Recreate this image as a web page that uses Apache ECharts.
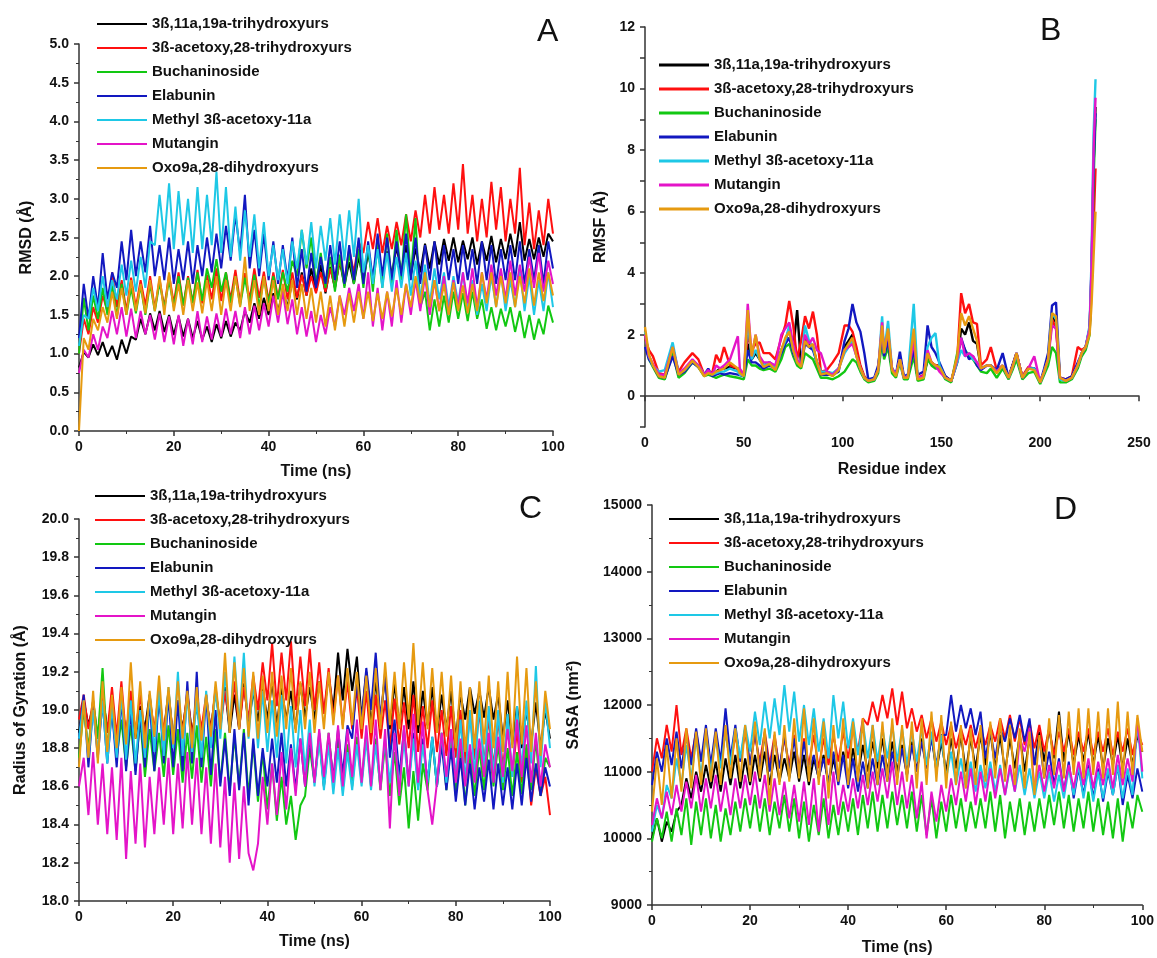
<!DOCTYPE html>
<html>
<head>
<meta charset="utf-8">
<script src="https://cdn.jsdelivr.net/npm/echarts@6/dist/echarts.min.js"></script>
<style>
  html, body { margin: 0; padding: 0; background: #fff; }
  #main { width: 1157px; height: 958px; }
</style>
</head>
<body>
<div id="main"></div>
<script>
// names + colours shared by all four panels
const NAMES = ['3ß,11a,19a-trihydroxyurs', '3ß-acetoxy,28-trihydroxyurs', 'Buchaninoside', 'Elabunin',
  'Methyl 3ß-acetoxy-11a', 'Mutangin', 'Oxo9a,28-dihydroxyurs'];
const COLORS = ['#000000', '#ff1010', '#12c812', '#1218c0', '#1ec8e6', '#e414c8', '#e69a10'];

const TIME_STEP = 1; // ns between samples in A, C, D

// ---- A: RMSD (Å), one value per ns, 0..100
const rmsdBlack = [0.82,1.02,0.95,1.12,0.98,1.15,0.96,1.10,0.92,1.18, 1.00,1.22,1.18,1.45,1.25,1.52,1.30,1.55,1.28,1.50,
  1.24,1.48,1.22,1.45,1.20,1.42,1.18,1.35,1.15,1.38, 1.20,1.42,1.22,1.40,1.30,1.55,1.40,1.65,1.45,1.72,
  1.50,1.78,1.55,1.80,1.60,1.95,1.70,2.05,1.75,2.10, 1.80,2.15,1.78,2.12,1.85,2.20,1.88,2.18,1.90,2.25,
  1.95,2.30,1.98,2.35,2.00,2.32,2.02,2.38,2.05,2.40, 2.00,2.36,2.05,2.42,2.10,2.45,2.15,2.48,2.20,2.50,
  2.18,2.46,2.22,2.50,2.15,2.45,2.20,2.52,2.18,2.48, 2.22,2.55,2.25,2.70,2.20,2.48,2.22,2.50,2.25,2.55, 2.45];
const rmsdRed = [1.00,1.45,1.25,1.60,1.40,1.75,1.55,2.05,1.60,1.95, 1.55,1.98,1.60,1.95,1.62,2.00,1.58,1.96,1.60,2.02,
  1.65,2.05,1.62,2.00,1.66,2.08,1.65,2.02,1.70,2.10, 1.68,2.05,1.70,2.08,1.66,2.04,1.70,2.10,1.72,2.06,
  1.68,2.05,1.72,2.08,1.70,2.05,1.72,2.02,1.75,2.00, 1.78,2.05,1.80,2.10,1.85,2.20,1.95,2.35,2.05,2.45,
  2.30,2.70,2.35,2.75,2.30,2.65,2.35,2.70,2.40,2.80, 2.45,2.85,2.50,3.05,2.55,3.15,2.60,3.05,2.55,3.20,
  2.60,3.45,2.55,3.05,2.45,3.00,2.50,3.22,2.60,3.15, 2.45,3.00,2.55,3.40,2.40,2.95,2.35,2.85,2.40,3.00, 2.55];
const rmsdGreen = [1.00,1.72,1.30,1.75,1.45,1.85,1.50,1.88,1.48,1.90, 1.50,1.85,1.52,1.88,1.50,1.90,1.55,1.92,1.58,1.95,
  1.60,2.00,1.62,1.98,1.65,2.05,1.68,2.10,1.85,2.22, 1.80,2.05,1.65,2.00,1.62,1.98,1.65,2.02,1.60,1.98,
  1.65,2.00,1.70,2.05,1.80,2.20,2.00,2.60,2.10,2.50, 1.90,2.30,1.85,2.25,1.80,2.28,1.85,2.30,1.90,2.35,
  1.85,2.40,1.80,2.45,1.85,2.55,1.90,2.60,1.95,2.80, 2.00,2.75,1.60,1.80,1.30,1.70,1.35,1.75,1.40,1.80,
  1.45,1.78,1.42,1.80,1.45,1.70,1.32,1.60,1.30,1.58, 1.35,1.60,1.28,1.55,1.20,1.50,1.18,1.45,1.25,1.62, 1.40];
const rmsdBlue = [1.20,1.90,1.45,2.00,1.60,2.30,1.70,2.05,1.85,2.45, 1.95,2.60,2.00,2.45,2.05,2.65,2.00,2.40,1.95,2.50,
  1.90,2.35,1.95,2.45,1.90,2.40,2.00,2.50,2.05,2.55, 2.10,2.65,2.20,2.80,2.30,3.05,2.10,2.60,2.00,2.55,
  1.95,2.45,1.90,2.40,1.95,2.50,1.85,2.35,1.80,2.30, 1.85,2.25,1.90,2.40,1.95,2.45,1.90,2.40,1.95,2.50,
  1.90,2.45,1.95,2.55,2.00,2.50,1.95,2.45,2.00,2.55, 1.95,2.50,1.90,2.40,1.95,2.45,1.90,2.40,1.95,2.35,
  1.90,2.40,1.95,2.35,1.90,2.45,1.95,2.40,1.90,2.35, 1.95,2.40,1.95,2.45,1.90,2.35,1.95,2.40,1.90,2.45, 2.10];
const rmsdCyan = [1.10,1.50,1.45,1.85,1.55,2.00,1.60,1.95,1.70,2.15, 1.75,2.20,1.80,2.25,1.85,2.45,2.40,3.05,2.45,3.20,
  2.35,3.10,2.40,3.00,2.30,3.15,2.35,3.05,2.40,3.35, 2.30,3.15,2.25,2.90,2.20,2.85,2.25,2.80,2.10,2.70,
  2.00,2.40,1.95,2.35,1.90,2.45,2.10,2.60,2.15,2.70, 2.10,2.65,2.20,2.75,2.15,2.80,2.20,2.85,2.25,3.00,
  2.05,2.40,1.90,2.35,1.85,2.30,1.80,2.25,1.85,2.30, 1.75,2.20,1.70,2.15,1.65,2.10,1.70,2.05,1.60,2.00,
  1.65,2.05,1.55,1.95,1.50,1.90,1.55,2.00,1.60,2.05, 1.55,1.95,1.60,2.10,1.55,2.00,1.50,1.95,1.55,2.05, 1.60];
const rmsdMagenta = [0.75,1.05,0.95,1.25,1.05,1.35,1.20,1.55,1.25,1.60, 1.22,1.58,1.20,1.55,1.25,1.50,1.18,1.52,1.15,1.48,
  1.12,1.50,1.10,1.45,1.12,1.55,1.15,1.48,1.18,1.52, 1.22,1.58,1.25,1.55,1.20,1.60,1.25,1.62,1.30,1.65,
  1.35,1.75,1.40,1.80,1.38,1.70,1.25,1.60,1.22,1.55, 1.15,1.50,1.25,1.60,1.35,1.75,1.50,1.85,1.55,1.90,
  1.45,2.05,1.35,1.85,1.30,1.80,1.35,1.95,1.40,1.90, 1.50,1.95,1.55,2.00,1.50,1.95,1.55,2.00,1.50,1.95,
  1.60,2.05,1.65,2.10,1.60,2.05,1.70,2.15,1.75,2.10, 1.70,2.20,1.75,2.15,1.80,2.25,1.85,2.30,1.80,2.20, 1.90];
const rmsdOrange = [0.00,1.20,1.05,1.45,1.30,1.60,1.40,1.80,1.45,1.85, 1.50,1.95,1.55,1.90,1.52,1.95,1.55,2.00,1.50,2.05,
  1.55,1.90,1.50,1.95,1.55,1.92,1.52,1.95,1.55,2.00, 1.50,1.95,1.55,2.00,1.60,2.25,1.55,1.95,1.50,2.00,
  1.55,1.95,1.50,1.90,1.55,1.95,1.50,1.90,1.45,1.85, 1.40,1.80,1.35,1.75,1.30,1.75,1.35,1.78,1.40,1.80,
  1.45,1.80,1.42,1.78,1.45,1.80,1.48,1.85,1.50,1.90, 1.60,2.00,1.65,2.05,1.60,1.95,1.55,1.90,1.50,1.92,
  1.55,1.88,1.52,1.90,1.55,2.05,1.65,2.05,1.60,2.00, 1.65,2.05,1.60,2.00,1.65,2.10,1.62,2.05,1.68,2.05, 1.75];

// ---- B: RMSF (Å) per residue
const RESIDUES = [0,2,4,7,10, 14,17,20,24,27, 30,32,34,36,38, 40,43,47,48,50, 52,54,56,58,60, 63,66,69,71,73,
  75,77,79,81,83, 85,87,89,92,95, 98,101,103,105,107, 109,111,113,116,118, 120,121,123,125,127, 129,131,133,136,138,
  141,143,145,147,149, 152,155,158,160,162, 164,166,168,170,173, 175,178,181,184,186, 188,191,194,197,200,
  202,204,206,208,210, 213,216,219,221,223, 225,226,227,228];
const rmsfBlack = [2.0,1.3,1.0,0.65,0.65, 1.55,0.75,0.85,1.15,1.0, 0.7,0.8,0.7,0.8,0.9, 0.9,0.95,0.9,0.8,0.7,
  1.7,1.2,1.4,1.2,1.0, 1.1,0.95,1.5,1.8,2.2, 1.5,2.8,1.0,1.9,1.7, 1.6,1.1,0.75,0.8,0.7, 0.9,1.6,1.8,2.0,1.4,
  0.95,0.6,0.5,0.55,0.9, 2.0,1.3,1.8,0.9,0.7, 1.25,0.6,0.65,1.5,0.6, 0.65,1.2,1.1,1.0,1.0, 0.6,0.5,1.1,2.2,2.0,
  2.4,1.8,1.7,0.9,1.0, 1.0,0.8,1.0,0.6,1.0, 1.4,0.6,0.9,0.9,0.45, 0.8,1.2,2.6,2.4,0.6, 0.5,0.6,1.0,1.4,1.6,
  2.2,4.0,7.5,9.4];
const rmsfRed = [1.9,1.5,1.3,0.75,0.7, 1.6,0.8,1.1,1.4,1.2, 0.7,0.8,0.75,1.35,1.1, 1.6,1.0,0.9,0.8,0.7,
  2.0,1.5,1.7,1.75,1.4, 1.4,1.2,1.9,2.3,3.1, 2.3,1.2,1.8,2.6,2.2, 2.75,2.0,0.8,0.85,1.1, 1.4,2.3,2.3,2.1,1.6,
  1.0,0.65,0.5,0.55,0.9, 2.2,1.4,1.8,0.9,0.7, 1.2,0.6,0.65,1.5,0.6, 0.7,1.2,1.1,1.0,1.0, 0.65,0.5,1.2,3.35,2.7,
  3.0,2.4,2.35,1.0,1.2, 1.6,0.85,1.0,0.65,1.0, 1.35,0.65,0.95,0.9,0.5, 0.8,1.2,2.5,2.2,0.6, 0.55,0.65,1.6,1.5,1.6,
  2.1,3.5,5.5,7.4];
const rmsfGreen = [2.0,1.2,0.95,0.6,0.55, 1.4,0.6,0.75,1.1,0.95, 0.65,0.7,0.65,0.6,0.65, 0.7,0.65,0.6,0.6,0.55,
  1.2,1.0,1.0,0.9,0.85, 0.9,0.8,1.2,1.6,1.7, 1.3,1.0,0.9,1.4,1.3, 1.2,0.9,0.6,0.6,0.55, 0.65,0.8,1.0,1.2,1.1,
  0.8,0.55,0.45,0.5,0.75, 1.8,1.2,1.6,0.75,0.6, 1.1,0.55,0.55,1.3,0.5, 0.55,1.2,1.0,0.9,0.9, 0.55,0.45,1.4,1.8,1.5,
  1.3,1.2,1.0,0.8,0.75, 0.9,0.6,0.9,0.55,0.85, 1.2,0.55,0.75,0.8,0.4, 0.7,1.0,1.6,1.4,0.45, 0.45,0.55,0.9,1.3,1.5,
  2.0,3.8,7.0,9.0];
const rmsfBlue = [1.6,1.2,1.0,0.65,0.6, 1.3,0.7,0.8,1.1,0.95, 0.7,0.9,0.65,0.7,0.75, 0.7,0.75,0.7,0.75,0.65,
  1.5,1.1,1.1,1.0,0.9, 1.0,0.9,1.4,1.7,1.9, 1.4,1.1,1.0,1.7,1.6, 1.5,1.1,0.7,0.7,0.7, 0.8,1.8,2.2,3.0,2.4,
  2.1,1.4,0.55,0.6,1.0, 2.0,1.3,1.8,0.9,0.7, 1.45,0.65,0.7,1.5,0.7, 0.8,2.3,1.6,1.4,1.1, 0.65,0.5,1.2,1.9,1.5,
  1.2,1.3,1.0,0.85,1.0, 1.0,0.85,1.4,0.6,1.0, 1.4,0.6,0.9,0.9,0.45, 0.9,1.4,2.95,3.05,0.6, 0.55,0.65,1.1,1.4,1.6,
  2.2,4.2,7.5,9.2];
const rmsfCyan = [2.1,1.3,1.0,0.8,0.85, 1.75,0.75,0.85,1.15,1.0, 0.7,0.8,0.7,0.75,0.8, 0.8,0.9,0.8,0.7,0.65,
  2.5,1.2,1.5,1.2,1.0, 1.1,0.9,1.5,1.8,2.3, 1.5,1.1,1.0,2.3,1.8, 1.6,1.1,0.8,0.8,0.75, 0.9,1.4,1.6,1.8,1.3,
  0.9,0.6,0.5,0.55,0.85, 2.6,1.4,2.45,0.9,0.7, 1.2,0.6,0.65,3.0,0.6, 0.6,1.6,1.9,2.05,1.0, 0.6,0.5,1.1,1.5,1.3,
  1.4,1.2,1.1,0.9,1.0, 1.0,0.8,1.0,0.6,0.95, 1.35,0.6,0.9,0.9,0.45, 0.8,1.2,2.7,2.5,0.55, 0.5,0.6,1.0,1.4,1.6,
  2.3,4.5,8.5,10.3];
const rmsfMagenta = [2.0,1.3,1.05,0.7,0.7, 1.6,0.75,0.9,1.2,1.0, 0.7,0.85,0.7,1.0,0.9, 1.0,1.2,1.95,0.9,0.7,
  3.0,1.3,2.0,1.3,1.1, 1.1,1.0,2.0,2.2,2.4, 1.7,1.2,1.0,2.0,1.7, 1.9,1.5,1.4,0.8,0.7, 0.9,1.5,1.6,1.7,1.3,
  0.9,0.6,0.5,0.55,0.85, 2.4,1.4,2.1,0.9,0.7, 1.2,0.6,0.65,1.8,0.6, 0.65,1.5,1.1,1.0,0.8, 0.6,0.5,1.2,1.9,1.3,
  1.4,1.3,1.1,0.9,1.0, 1.0,0.8,1.0,0.6,0.95, 1.4,0.6,0.9,1.3,0.45, 0.8,1.2,2.3,2.2,0.6, 0.5,0.6,1.0,1.4,1.6,
  2.2,4.3,8.0,9.7];
const rmsfOrange = [2.25,1.35,1.0,0.65,0.6, 1.6,0.7,0.85,1.15,0.95, 0.65,0.75,0.7,0.8,0.85, 0.9,1.1,0.9,0.75,0.65,
  2.8,1.3,2.0,1.2,0.95, 1.05,0.85,1.5,1.9,2.1, 1.5,1.1,0.95,1.8,1.6, 1.7,1.1,0.7,0.75,0.65, 0.85,1.5,1.7,1.9,1.3,
  0.9,0.6,0.5,0.55,0.85, 2.3,1.4,2.2,0.85,0.65, 1.2,0.6,0.6,2.2,0.55, 0.6,1.4,1.1,1.0,0.95, 0.6,0.5,1.3,2.7,2.3,
  2.6,2.2,1.8,0.9,1.0, 1.0,0.75,1.0,0.6,0.95, 1.4,0.6,0.9,0.85,0.45, 0.8,1.2,2.7,2.6,0.6, 0.5,0.6,1.0,1.4,1.6,
  2.0,3.0,4.5,6.0];

// ---- C: radius of gyration (Å), one value per ns
const rgBlack = [18.88,19.05,18.92,19.02,18.85,19.08,18.90,19.00,18.86,19.04, 18.88,19.06,18.85,19.02,18.90,19.08,18.86,19.04,18.88,19.10,
  18.85,19.05,18.90,19.08,18.88,19.02,18.86,19.06,18.90,19.10, 18.92,19.12,18.88,19.08,18.90,19.14,18.92,19.10,18.94,19.12,
  18.95,19.15,18.92,19.12,18.95,19.10,18.90,19.14,18.96,19.12, 18.95,19.15,18.98,19.18,19.00,19.30,19.05,19.32,19.10,19.28,
  18.95,19.20,18.92,19.15,18.95,19.18,18.90,19.14,18.92,19.12, 18.90,19.15,18.88,19.10,18.92,19.12,18.88,19.08,18.90,19.10,
  18.85,19.08,18.95,19.12,18.98,19.10,18.96,19.12,18.95,19.08, 18.85,19.05,18.82,19.02,18.80,19.00,18.82,19.04,18.80,19.00, 18.85];
const rgRed = [18.95,19.08,18.90,19.05,18.85,19.10,18.88,19.12,18.86,19.15, 18.85,19.10,18.88,19.08,18.86,19.05,18.90,19.10,18.88,19.08,
  18.86,19.05,18.88,19.10,18.85,19.06,18.90,19.08,18.88,19.12, 18.90,19.10,18.92,19.15,18.90,19.12,18.95,19.18,19.00,19.25,
  19.05,19.35,19.02,19.30,19.05,19.36,19.00,19.28,19.02,19.32, 19.00,19.25,18.98,19.22,18.95,19.18,18.92,19.15,18.90,19.12,
  18.85,19.10,18.82,19.08,18.85,19.05,18.80,19.06,18.82,19.04, 18.80,19.08,18.78,19.02,18.80,19.05,18.78,19.00,18.76,19.02,
  18.75,19.00,18.72,18.98,18.74,19.00,18.72,18.96,18.70,18.95, 18.70,18.92,18.65,18.90,18.62,18.80,18.50,18.70,18.55,18.65, 18.45];
const rgGreen = [18.75,19.00,18.80,19.05,18.85,19.22,18.80,19.00,18.75,18.95, 18.70,18.92,18.68,18.95,18.65,18.90,18.68,18.88,18.65,18.92,
  18.66,18.90,18.62,18.88,18.64,18.92,18.62,18.86,18.60,18.90, 18.62,18.88,18.58,18.86,18.60,18.90,18.55,18.82,18.52,18.78,
  18.48,18.72,18.42,18.65,18.40,18.55,18.32,18.50,18.55,18.80, 18.62,18.85,18.60,18.88,18.62,18.85,18.58,18.82,18.60,18.86,
  18.62,18.88,18.60,18.85,18.58,18.82,18.55,18.78,18.50,18.70, 18.38,18.68,18.42,18.72,18.58,18.85,18.60,18.88,18.58,18.86,
  18.55,18.82,18.50,18.78,18.55,18.80,18.58,18.84,18.60,18.82, 18.58,18.80,18.55,18.78,18.56,18.82,18.58,18.85,18.55,18.75, 18.70];
const rgBlue = [18.85,19.08,18.70,19.02,18.75,19.05,18.72,19.00,18.70,19.06, 18.68,19.00,18.66,18.98,18.70,19.05,18.68,19.10,18.72,19.08,
  18.70,19.05,18.68,19.15,18.72,19.20,18.70,19.08,18.66,19.00, 18.60,18.85,18.55,18.90,18.58,18.88,18.50,18.85,18.55,18.80,
  18.60,18.85,18.62,18.88,18.60,18.82,18.58,18.85,18.60,18.86, 18.62,18.88,18.60,18.85,18.64,18.90,18.66,18.92,18.85,19.15,
  18.95,19.22,19.00,19.30,18.95,19.20,18.75,18.95,18.65,18.90, 18.62,18.88,18.60,18.85,18.62,18.86,18.60,18.82,18.58,18.80,
  18.52,18.75,18.50,18.72,18.48,18.70,18.52,18.74,18.48,18.72, 18.50,18.70,18.48,18.72,18.50,18.75,18.52,18.72,18.55,18.70, 18.60];
const rgCyan = [18.85,19.05,18.75,19.00,18.78,19.05,18.72,19.02,18.75,19.08, 18.74,19.05,18.72,19.00,18.75,19.08,18.78,19.10,18.76,19.12,
  18.80,19.20,18.76,19.08,18.78,19.05,18.75,19.10,18.80,19.12, 18.85,19.20,18.90,19.28,18.92,19.30,18.85,19.15,18.80,19.10,
  18.78,19.05,18.75,19.08,18.72,19.02,18.70,19.00,18.68,18.95, 18.60,18.85,18.58,18.82,18.56,18.80,18.55,18.78,18.58,18.82,
  18.60,18.85,18.58,18.82,18.60,18.85,18.62,18.86,18.60,18.84, 18.60,18.85,18.58,18.82,18.62,18.86,18.60,18.88,18.62,18.90,
  18.65,18.95,18.62,19.00,18.65,19.05,18.68,19.02,18.65,19.00, 18.62,18.98,18.65,19.02,18.68,19.05,18.72,19.23,18.70,19.05, 18.80];
const rgMagenta = [18.60,18.75,18.45,18.78,18.40,18.72,18.35,18.70,18.32,18.75, 18.22,18.68,18.30,18.72,18.28,18.65,18.35,18.70,18.40,18.75,
  18.35,18.72,18.38,18.78,18.40,18.75,18.35,18.70,18.30,18.72, 18.28,18.65,18.20,18.62,18.22,18.60,18.25,18.16,18.30,18.65,
  18.40,18.72,18.45,18.78,18.48,18.80,18.55,18.85,18.60,18.88, 18.62,18.90,18.65,18.88,18.62,18.92,18.60,18.90,18.65,18.95,
  18.62,18.92,18.60,18.95,18.58,18.90,18.38,18.88,18.55,18.92, 18.60,18.98,18.62,18.94,18.58,18.40,18.62,18.88,18.65,18.90,
  18.62,18.85,18.60,18.82,18.62,18.85,18.65,18.88,18.62,18.86, 18.65,18.90,18.68,18.95,18.65,18.92,18.62,18.88,18.60,18.82, 18.70];
const rgOrange = [18.70,19.05,18.75,19.10,18.72,19.15,18.78,19.08,18.80,19.12, 18.82,19.25,18.85,19.15,18.80,19.10,18.86,19.18,18.84,19.12,
  18.82,19.15,18.85,19.10,18.80,19.12,18.84,19.08,18.86,19.15, 18.90,19.30,18.88,19.25,18.90,19.22,18.86,19.20,18.85,19.18,
  18.88,19.20,18.86,19.18,18.90,19.22,18.88,19.15,18.90,19.20, 18.88,19.15,18.90,19.20,18.92,19.18,18.90,19.22,18.92,19.20,
  18.90,19.18,18.88,19.22,18.90,19.25,18.92,19.20,18.90,19.25, 18.95,19.35,18.92,19.25,18.90,19.22,18.88,19.20,18.86,19.18,
  18.80,19.15,18.78,19.12,18.80,19.15,18.82,19.18,18.80,19.15, 18.78,19.20,18.80,19.28,18.82,19.22,18.78,19.15,18.76,19.10, 18.90];

// ---- D: SASA (nm²), one value per ns
const sasaBlack = [10000,10300,9950,10250,10100,10400,10500,10900,10600,11000, 10700,11100,10750,11150,10700,11200,10800,11250,10750,11200,
  10800,11250,10850,11300,10800,11250,10850,11200,10900,11300, 10850,11250,10800,11200,10900,11250,10800,11200,10850,11300,
  10900,11350,10950,11400,11000,11450,11050,11500,11000,11450, 11000,11400,10950,11450,11000,11500,11050,11550,11000,11450,
  11000,11500,11050,11550,11000,11500,11050,11550,11100,11600, 11050,11550,11000,11500,11050,11550,11000,11500,11100,11600,
  11150,11650,11200,11900,11150,11600,11100,11550,11150,11600, 11100,11550,11050,11500,11100,11550,11050,11500,11100,11550, 11300];
const sasaRed = [11000,11500,11200,11700,11300,12000,11250,11650,11200,11600, 11150,11550,11100,11500,11150,11600,11100,11550,11150,11600,
  11100,11550,11150,11600,11100,11550,11050,11500,11100,11550, 11050,11500,11100,11550,11050,11500,11100,11550,11150,11600,
  11200,11650,11300,11800,11700,12050,11750,12150,11800,12250, 11700,12200,11650,11950,11600,11850,11500,11800,11450,11750,
  11400,11700,11350,11650,11400,11700,11350,11650,11400,11700, 11450,11800,11500,11850,11450,11800,11400,11750,11350,11700,
  11300,11650,11250,11600,11300,11650,11250,11600,11300,11650, 11250,11600,11300,11650,11250,11600,11300,11650,11250,11600, 11400];
const sasaGreen = [9950,10300,10000,10400,9950,10450,10050,10600,9900,10550, 10050,10600,10000,10500,9950,10450,10050,10550,10100,10600,
  10150,10650,10100,10600,10050,10550,10150,10650,10100,10600, 10000,10550,9950,10500,10050,10600,10000,10500,10050,10550,
  10100,10600,10050,10650,10150,10700,10100,10650,10150,10700, 10200,10650,10150,10700,10100,10650,10050,10600,10000,10550,
  10100,10650,10150,10600,10100,10550,10150,10600,10150,10700, 10100,10650,10000,10550,10100,10600,10050,10550,10100,10600,
  10150,10650,10200,10700,10150,10650,10100,10600,10150,10700, 10100,10600,10050,10550,10000,10600,9950,10550,10150,10650, 10400];
const sasaBlue = [10800,11300,11000,11500,11100,11600,11050,11550,11100,11650, 11150,11700,11100,11650,11150,11950,11200,11700,11150,11650,
  11100,11600,11050,11550,11000,11500,11050,11550,11000,11500, 10950,11450,11000,11250,10900,11200,10850,11300,10800,11250,
  10750,11200,10700,11150,10750,11200,10800,11250,10850,11300, 10900,11350,10950,11400,11000,11450,11050,11500,11100,11550,
  11550,12150,11600,12000,11650,11950,11550,11900,11200,11600, 11200,11650,11450,11800,11500,11850,11450,11800,11100,11500,
  10900,11300,10800,11200,10700,11150,10600,11050,10650,11100, 10600,11050,10550,11000,10650,11100,10500,10950,10600,11050, 10700];
const sasaCyan = [10100,10500,10300,10800,10600,11200,10800,11400,10900,11500, 10950,11550,11000,11500,11050,11600,11100,11650,11200,11700,
  11300,11900,11400,12050,11500,12100,11550,12300,11600,12200, 11450,12000,11400,11950,11300,11800,11200,12150,11500,12050,
  11350,11800,11250,11750,11200,11700,11150,11650,11200,11700, 11150,11650,11100,11600,11150,11650,11100,11600,11050,11550,
  10900,11300,10800,11200,10750,11150,10700,11100,10750,11150, 10700,11100,10650,11050,10700,11100,10650,11050,10600,11000,
  10600,11000,10550,10950,10600,11050,10650,11100,10600,11050, 10550,11000,10600,11050,10650,11100,10600,11050,10650,11750, 10900];
const sasaMagenta = [10200,10600,10300,10700,10350,10800,10400,10850,10450,10950, 10400,10900,10450,10950,10400,10850,10350,10900,10450,10950,
  10500,11000,10450,10950,10400,10900,10350,10850,10300,10800, 10250,10850,10200,10900,10100,10950,10200,11000,10350,10800,
  10400,10900,10450,10950,10500,11000,10550,11050,10600,11150, 10500,11000,10450,10950,10300,10850,10000,10700,10250,10800,
  10400,10900,10500,11000,10550,11050,10500,11000,10550,11050, 10600,11050,10650,11100,10700,11500,11300,11650,10750,11100,
  10700,11100,10750,11150,10700,11100,10750,11150,10800,11200, 10750,11150,10800,11200,10750,11250,10800,11200,10850,11800, 11000];
const sasaOrange = [10400,11200,10500,11400,10600,11500,10700,11650,10750,11600, 10800,11650,10850,11600,10800,11700,10900,11650,10850,11700,
  10850,11750,10900,11650,10500,11600,10800,11700,10850,11800, 10900,11950,10850,11800,10800,11750,10600,11700,10850,11800,
  10800,11750,10850,11800,10750,11700,10800,11750,10850,11800, 10800,11700,10850,11750,10750,11800,10800,11900,10850,11850,
  10750,11750,10800,11700,10750,11650,10800,11700,10850,11750, 10900,11800,10850,11700,10800,11650,10750,11600,10650,11550,
  10900,11800,10950,11850,10900,11900,10950,11950,10900,11950, 10950,11900,10900,11950,10950,12050,10900,11900,10950,11850, 11300];

const RMSD = [rmsdBlack, rmsdRed, rmsdGreen, rmsdBlue, rmsdCyan, rmsdMagenta, rmsdOrange];
const RMSF = [rmsfBlack, rmsfRed, rmsfGreen, rmsfBlue, rmsfCyan, rmsfMagenta, rmsfOrange];
const RG = [rgBlack, rgRed, rgGreen, rgBlue, rgCyan, rgMagenta, rgOrange];
const SASA = [sasaBlack, sasaRed, sasaGreen, sasaBlue, sasaCyan, sasaMagenta, sasaOrange];

const FONT = "'Liberation Sans', Arial, sans-serif";
const lbl = { color: '#111', fontFamily: FONT, fontWeight: 'bold', fontSize: 14 };
const axLine = { lineStyle: { color: '#333', width: 1.5 } };

function xAxis(idx, max, interval, name, gap) {
  return {
    type: 'value', gridIndex: idx, min: 0, max: max, interval: interval,
    name: name, nameLocation: 'middle', nameGap: gap,
    nameTextStyle: Object.assign({}, lbl, { fontSize: 16 }),
    axisLine: axLine, splitLine: { show: false },
    axisTick: { length: 5, lineStyle: { color: '#333', width: 1.5 } },
    minorTick: { show: true, splitNumber: 2, length: 3, lineStyle: { color: '#333' } },
    axisLabel: Object.assign({}, lbl, { margin: 9 })
  };
}
function yAxis(idx, min, max, interval, name, gap, fmt, minor) {
  return {
    type: 'value', gridIndex: idx, min: min, max: max, interval: interval,
    name: name, nameLocation: 'middle', nameGap: gap,
    nameTextStyle: Object.assign({}, lbl, { fontSize: 16 }),
    axisLine: Object.assign({ onZero: false }, axLine), splitLine: { show: false },
    axisTick: { length: 5, lineStyle: { color: '#333', width: 1.5 } },
    minorTick: { show: minor, splitNumber: 2, length: 3, lineStyle: { color: '#333' } },
    axisLabel: Object.assign({}, lbl, { margin: 10, formatter: fmt })
  };
}

function timePoints(vals) { return vals.map((v, i) => [i * TIME_STEP, v]); }
function residuePoints(vals) { return vals.map((v, i) => [RESIDUES[i], v]); }

const series = [];
function addPanel(idx, sets, toPoints, width) {
  sets.forEach((vals, k) => {
    series.push({
      name: NAMES[k], type: 'line', xAxisIndex: idx, yAxisIndex: idx,
      data: toPoints(vals), symbol: 'none', smooth: false,
      lineStyle: { color: COLORS[k], width: width }, itemStyle: { color: COLORS[k] },
      z: 2 + k
    });
  });
}
addPanel(0, RMSD, timePoints, 2);
addPanel(1, RMSF, residuePoints, 2.4);
addPanel(2, RG, timePoints, 2);
addPanel(3, SASA, timePoints, 2);

function legend(left, top, h) {
  return {
    orient: 'vertical', left: left, top: top, data: NAMES,
    icon: 'rect', itemWidth: 50, itemHeight: h, itemGap: 6, selectedMode: false,
    textStyle: Object.assign({}, lbl, { fontSize: 15, lineHeight: 18 })
  };
}

const chart = echarts.init(document.getElementById('main'), null, { renderer: 'canvas' });
chart.setOption({
  animation: false,
  backgroundColor: '#fff',
  grid: [
    { left: 79, top: 44, width: 474, height: 387 },
    { left: 645, top: 27, width: 494, height: 400 },
    { left: 79, top: 519, width: 471, height: 382 },
    { left: 652, top: 505, width: 493, height: 400 }
  ],
  xAxis: [
    xAxis(0, 100, 20, 'Time (ns)', 33),
    xAxis(1, 250, 50, 'Residue index', 35),
    xAxis(2, 100, 20, 'Time (ns)', 33),
    xAxis(3, 100, 20, 'Time (ns)', 35)
  ],
  yAxis: [
    yAxis(0, 0, 5, 0.5, 'RMSD (Å)', 44, v => v.toFixed(1), true),
    yAxis(1, -1, 12, 1, 'RMSF (Å)', 36, v => (v >= 0 && v % 2 === 0) ? String(v) : '', false),
    yAxis(2, 18, 20, 0.2, 'Radius of Gyration (Å)', 50, v => v.toFixed(1), true),
    yAxis(3, 9000, 15000, 1000, 'SASA (nm²)', 70, v => String(v), true)
  ],
  legend: [legend(92, 10, 2), legend(654, 51, 3), legend(90, 482, 2), legend(664, 505, 2)],
  graphic: [
    { type: 'text', left: 537, top: 16, style: { text: 'A', font: '32px "Liberation Sans", Arial, sans-serif', fill: '#111' } },
    { type: 'text', left: 1040, top: 15, style: { text: 'B', font: '32px "Liberation Sans", Arial, sans-serif', fill: '#111' } },
    { type: 'text', left: 519, top: 493, style: { text: 'C', font: '32px "Liberation Sans", Arial, sans-serif', fill: '#111' } },
    { type: 'text', left: 1054, top: 494, style: { text: 'D', font: '32px "Liberation Sans", Arial, sans-serif', fill: '#111' } }
  ],
  series: series
});
window.addEventListener('resize', function () { chart.resize(); });
</script>
</body>
</html>
